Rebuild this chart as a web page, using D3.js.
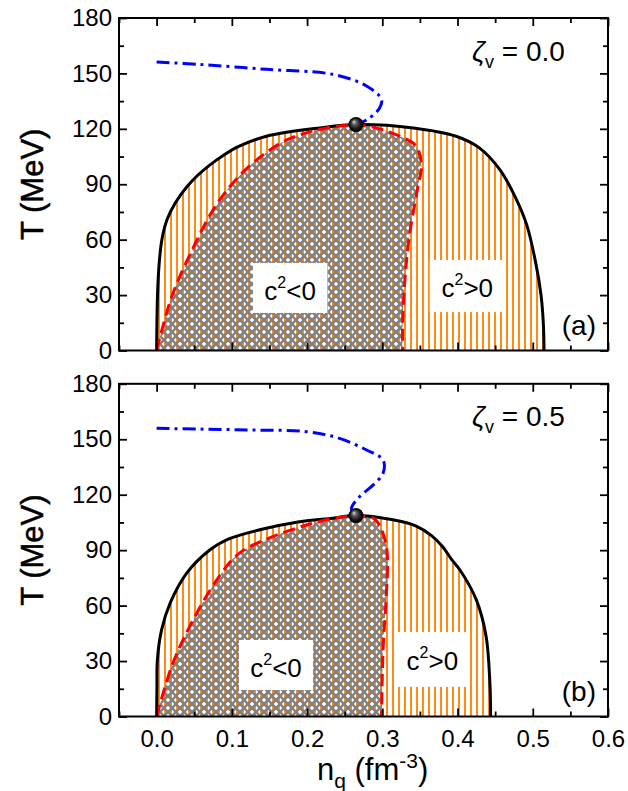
<!DOCTYPE html>
<html><head><meta charset="utf-8">
<script src="https://cdn.jsdelivr.net/npm/d3@7"></script>
<style>body{margin:0;background:#fff}svg{display:block;font-family:"Liberation Sans",Arial,sans-serif}</style>
</head><body><svg id="c" width="628" height="791"></svg>
<script>
// ---------- data ----------
const xTicks = [0.0, 0.1, 0.2, 0.3, 0.4, 0.5, 0.6];
const xMinor = [-0.05, 0.05, 0.15, 0.25, 0.35, 0.45, 0.55];
const yTicks = [0, 30, 60, 90, 120, 150, 180];
const yMinor = [15, 45, 75, 105, 135, 165];
const panelTags = ["(a)", "(b)"];
const zetaValues = ["0.0", "0.5"];

// panel (a), zeta_v = 0.0  : [n_q (fm^-3), T (MeV)]
const boundaryA = [[0,0],[0.0004,15],[0.0012,30],[0.003,45],[0.007,60],[0.014,71],[0.025,80],[0.04,88.5],[0.055,95],[0.071,100.5],[0.09,106],[0.11,110.6],[0.146,116],[0.217,120.5],[0.265,122.3],[0.341,120.5],[0.398,116],[0.429,109.7],[0.456,98],[0.478,82],[0.492,68],[0.504,47.3],[0.511,30],[0.514,15],[0.515,0]];
const spinodalA = [[0,0],[0.02,29],[0.049,56],[0.075,76],[0.1,90],[0.128,101.5],[0.173,114],[0.226,120.5],[0.257,121.8],[0.283,121.4],[0.323,116],[0.345,110.6],[0.352,100],[0.347,88],[0.336,62],[0.330,38],[0.327,15],[0.327,0]];
const crossoverA = [[0,156.2],[0.057,154.9],[0.146,152.2],[0.234,149.5],[0.279,143.2],[0.299,135.9],[0.296,131],[0.28,125],[0.265,122.3]];
const cepA = [0.265, 122.3];

// panel (b), zeta_v = 0.5
const boundaryB = [[0,0],[0.0004,15],[0.001,30.7],[0.0066,46.9],[0.018,61.4],[0.04,77.6],[0.071,90.2],[0.093,95.6],[0.137,101],[0.186,105.1],[0.234,107.3],[0.265,108.7],[0.314,106.4],[0.345,103],[0.365,98],[0.38,92],[0.392,85],[0.403,79.4],[0.425,63.1],[0.438,43.3],[0.443,18.1],[0.444,0]];
const spinodalB = [[0,0],[0.02,27.1],[0.044,48.7],[0.08,73.9],[0.11,88.4],[0.155,97.4],[0.208,104.6],[0.252,108.2],[0.288,107.3],[0.298,102],[0.305,93],[0.307,84],[0.305,63.1],[0.301,36.1],[0.299,0]];
const crossoverB = [[0,155.9],[0.057,155.5],[0.124,155],[0.199,154.1],[0.243,150.5],[0.279,144.2],[0.301,138.8],[0.301,131.6],[0.288,125.3],[0.270,119],[0.259,112.7],[0.262,109.6]];
const cepB = [0.265, 108.7];

const panels = [
  {boundary: boundaryA, spinodal: spinodalA, crossover: crossoverA, cep: cepA, top: 18, bottom: 350.5,
   boxes: [{n0:0.128,n1:0.227,t0:20.3,t1:47.4,lab:"<0"},{n0:0.363,n1:0.463,t0:20.8,t1:49,lab:">0"}], xlabels:false},
  {boundary: boundaryB, spinodal: spinodalB, crossover: crossoverB, cep: cepB, top: 383.8, bottom: 716.5,
   boxes: [{n0:0.1095,n1:0.208,t0:14.3,t1:41.4,lab:"<0"},{n0:0.318,n1:0.415,t0:16,t1:45.7,lab:">0"}], xlabels:true}
];

// ---------- drawing ----------
const svg = d3.select("#c");
const defs = svg.append("defs");
const L = 119, R = 608;
const x = d3.scaleLinear().domain([-0.05, 0.6]).range([L, R]);

const st = defs.append("pattern").attr("id","stripes").attr("patternUnits","userSpaceOnUse").attr("width",6).attr("height",6);
st.append("rect").attr("width",6).attr("height",6).attr("fill","#fff");
st.append("rect").attr("x",2).attr("width",2).attr("height",6).attr("fill","#ff8a14");
const P = 8;
const ch = defs.append("pattern").attr("id","cross").attr("patternUnits","userSpaceOnUse").attr("width",P).attr("height",P);
ch.append("path").attr("d",`M-1,-1L${P+1},${P+1}M${P+1},-1L-1,${P+1}`).attr("stroke","#7f7f7f").attr("stroke-width",2.4).attr("fill","none");
const rg = defs.append("radialGradient").attr("id","ball").attr("cx","0.5").attr("cy","0.5").attr("r","0.5").attr("fx","0.35").attr("fy","0.3");
rg.append("stop").attr("offset","0").attr("stop-color","#d8d8d8");
rg.append("stop").attr("offset","0.35").attr("stop-color","#555");
rg.append("stop").attr("offset","0.75").attr("stop-color","#111");
rg.append("stop").attr("offset","1").attr("stop-color","#000");

panels.forEach((p, i) => {
  const y = d3.scaleLinear().domain([0, 180]).range([p.bottom, p.top]);
  const g = svg.append("g");
  const cid = "clip" + i;
  defs.append("clipPath").attr("id", cid).append("rect")
    .attr("x", L).attr("y", p.top).attr("width", R - L).attr("height", p.bottom - p.top);
  const line = d3.line().x(d => x(d[0])).y(d => y(d[1])).curve(d3.curveCatmullRom.alpha(0.5));
  const pg = g.append("g").attr("clip-path", `url(#${cid})`);
  pg.append("path").attr("d", line(p.boundary) + "Z").attr("fill", "url(#stripes)");
  pg.append("path").attr("d", line(p.spinodal) + "Z").attr("fill", "url(#cross)");
  // label boxes
  p.boxes.forEach(b => {
    pg.append("rect").attr("x", x(b.n0)).attr("y", y(b.t1)).attr("width", x(b.n1) - x(b.n0)).attr("height", y(b.t0) - y(b.t1)).attr("fill", "#fff");
    const t = pg.append("text").attr("x", (x(b.n0) + x(b.n1)) / 2).attr("y", y(b.t1) + 37.5)
      .attr("text-anchor", "middle").attr("font-size", 26).attr("fill", "#000");
    t.append("tspan").text("c");
    t.append("tspan").attr("font-size", 16).attr("dy", -12).text("2");
    t.append("tspan").attr("dy", 12).text(b.lab);
  });
  pg.append("path").attr("d", line(p.boundary)).attr("fill", "none").attr("stroke", "#000").attr("stroke-width", 3);
  pg.append("path").attr("d", line(p.spinodal)).attr("fill", "none").attr("stroke", "#ff0000").attr("stroke-width", 3).attr("stroke-dasharray", "12,6");
  pg.append("path").attr("d", line(p.crossover)).attr("fill", "none").attr("stroke", "#0000ff").attr("stroke-width", 3).attr("stroke-dasharray", "13,5,3,5");
  g.append("circle").attr("cx", x(p.cep[0])).attr("cy", y(p.cep[1])).attr("r", 7.5).attr("fill", "url(#ball)");

  // axes (inward ticks)
  const styleAxis = a => { a.select(".domain").remove(); a.selectAll("line").attr("stroke", "#000").attr("stroke-width", 1.8); a.selectAll("text").attr("fill","#000").attr("font-family",'"Liberation Sans",Arial,sans-serif'); };
  const bx = g.append("g").attr("transform", `translate(0,${p.bottom})`)
    .call(d3.axisBottom(x).tickValues(xTicks).tickSize(-8).tickPadding(13).tickFormat(p.xlabels ? d3.format(".1f") : () => ""));
  bx.selectAll("text").attr("font-size", 24);
  styleAxis(bx);
  styleAxis(g.append("g").attr("transform", `translate(0,${p.bottom})`).call(d3.axisBottom(x).tickValues(xMinor).tickSize(-5).tickFormat(() => "")));
  styleAxis(g.append("g").attr("transform", `translate(0,${p.top})`).call(d3.axisTop(x).tickValues(xTicks).tickSize(-8).tickFormat(() => "")));
  styleAxis(g.append("g").attr("transform", `translate(0,${p.top})`).call(d3.axisTop(x).tickValues(xMinor).tickSize(-5).tickFormat(() => "")));
  const ly = g.append("g").attr("transform", `translate(${L},0)`)
    .call(d3.axisLeft(y).tickValues(yTicks).tickSize(-8).tickPadding(7).tickFormat(d3.format("d")));
  ly.selectAll("text").attr("font-size", 24);
  styleAxis(ly);
  styleAxis(g.append("g").attr("transform", `translate(${L},0)`).call(d3.axisLeft(y).tickValues(yMinor).tickSize(-5).tickFormat(() => "")));
  styleAxis(g.append("g").attr("transform", `translate(${R},0)`).call(d3.axisRight(y).tickValues(yTicks).tickSize(-8).tickFormat(() => "")));
  styleAxis(g.append("g").attr("transform", `translate(${R},0)`).call(d3.axisRight(y).tickValues(yMinor).tickSize(-5).tickFormat(() => "")));
  g.append("rect").attr("x", L).attr("y", p.top).attr("width", R - L).attr("height", p.bottom - p.top)
    .attr("fill", "none").attr("stroke", "#000").attr("stroke-width", 2);

  // y title
  g.append("text").attr("transform", `translate(43,${(p.top + p.bottom) / 2}) rotate(-90)`)
    .attr("text-anchor", "middle").attr("font-size", 31).attr("stroke", "#000").attr("stroke-width", 0.5).text("T (MeV)");
  // zeta label
  const z = g.append("text").attr("x", 472).attr("y", p.top + 42.5).attr("font-size", 28);
  z.append("tspan").attr("font-style", "italic").text("ζ");
  z.append("tspan").attr("font-size", 18).attr("dy", 7).text("v");
  z.append("tspan").attr("dy", -7).text(" = " + zetaValues[i]);
  // panel tag
  g.append("text").attr("x", 596).attr("y", p.bottom - 16).attr("text-anchor", "end").attr("font-size", 28).text(panelTags[i]);
});

// x title
const xt = svg.append("text").attr("x", 317).attr("y", 780).attr("font-size", 31);
xt.append("tspan").text("n");
xt.append("tspan").attr("font-size", 21).attr("dy", 8).text("q");
xt.append("tspan").attr("dy", -8).text(" (fm");
xt.append("tspan").attr("font-size", 21).attr("dy", -12).text("-3");
xt.append("tspan").attr("dy", 12).text(")");
</script></body></html>
